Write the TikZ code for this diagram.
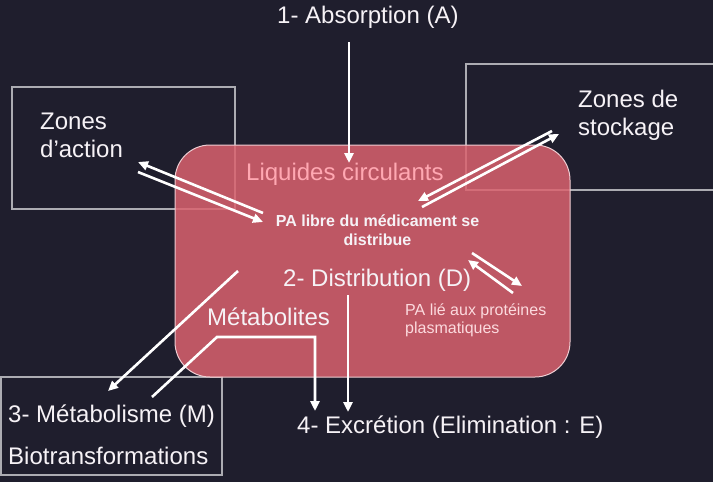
\documentclass[tikz,border=0pt]{standalone}
\usepackage{fontspec}
\setmainfont{Liberation Sans}
\usetikzlibrary{arrows.meta}
\definecolor{bgc}{RGB}{31,30,45}
\definecolor{redfill}{RGB}{218,98,110}
\definecolor{redline}{RGB}{238,205,210}
\definecolor{graybox}{RGB}{172,172,178}
\definecolor{liqc}{RGB}{255,168,178}
\definecolor{txtc}{RGB}{246,242,246}
\definecolor{paliec}{RGB}{252,218,222}
\tikzset{
  big/.style={font=\fontsize{24}{28}\selectfont, text=txtc, inner sep=0pt, anchor=base west},
  small/.style={font=\fontsize{16}{19}\selectfont, inner sep=0pt},
  zonebox/.style={draw=graybox, line width=1.2pt},
  arr/.style={draw=white, line width=2.6pt, -{Triangle[length=10pt,width=9pt]}},
  plain/.style={draw=white, line width=2.6pt}
}
\begin{document}
\begin{tikzpicture}[x=1pt,y=-1pt]
\fill[bgc] (0,0) rectangle (713,482);
\useasboundingbox (0,0) rectangle (713,482);
% boxes
\draw[zonebox] (12,87) rectangle (235,209);
\draw[zonebox] (466,64) rectangle (716,190);
\draw[zonebox] (1,377) rectangle (222,475);
\draw[fill=redfill, fill opacity=0.85, draw=redline, line width=1pt, rounded corners=35pt] (175,145) rectangle (570,377);
% texts
\node[big] (absA) at (277,23) {1- Absorption (A)};
\node[big] (zact1) at (40,129) {Zones};
\node[big] (zact2) at (40,157) {d’action};
\node[big] (zsto1) at (578,107) {Zones de};
\node[big] (zsto2) at (578,135) {stockage};
\node[big, text=liqc] (liq) at (246,180) {Liquides circulants};
\node[small, font=\fontsize{16}{19}\selectfont\bfseries, text=txtc, anchor=base] (pal1) at (377.5,226) {PA libre du médicament se};
\node[small, font=\fontsize{16}{19}\selectfont\bfseries, text=txtc, anchor=base] (pal2) at (377.5,245) {distribue};
\node[big] (dist) at (283,286) {2- Distribution (D)};
\node[small, text=paliec, anchor=base west] (pl1) at (405,315) {PA lié aux protéines};
\node[small, text=paliec, anchor=base west] (pl2) at (405,333) {plasmatiques};
\node[big] (metab) at (207,325) {Métabolites};
\node[big] (metM) at (8,422) {3- Métabolisme (M)};
\node[big] (bio) at (8,464) {Biotransformations};
\node[big] (exc) at (297,433) {4- Excrétion (Elimination : E)};
% coordinates
\coordinate (a1) at (349,42);  \coordinate (a2) at (349,163);
\coordinate (za1) at (263,213); \coordinate (za2) at (138,162);
\coordinate (zb1) at (138,172); \coordinate (zb2) at (263,222);
\coordinate (sa1) at (552,131); \coordinate (sa2) at (418,201);
\coordinate (sb1) at (422,207); \coordinate (sb2) at (559,134);
\coordinate (pa1) at (472,253); \coordinate (pa2) at (522,286);
\coordinate (pb1) at (513,293); \coordinate (pb2) at (468,260);
\coordinate (m1) at (238,271); \coordinate (m2) at (108,391);
\coordinate (mt1) at (152,397); \coordinate (mt2) at (217,337);
\coordinate (mt3) at (315,337); \coordinate (mt4) at (315,411);
\coordinate (e1) at (348,295); \coordinate (e2) at (348,412);
% arrows
\draw[arr] (a1) -- (a2);
\draw[arr] (za1) -- (za2);
\draw[arr] (zb1) -- (zb2);
\draw[arr] (sa1) -- (sa2);
\draw[arr] (sb1) -- (sb2);
\draw[arr] (pa1) -- (pa2);
\draw[arr] (pb1) -- (pb2);
\draw[arr] (m1) -- (m2);
\draw[arr] (mt1) -- (mt2) -- (mt3) -- (mt4);
\draw[arr] (e1) -- (e2);
\end{tikzpicture}
\end{document}
